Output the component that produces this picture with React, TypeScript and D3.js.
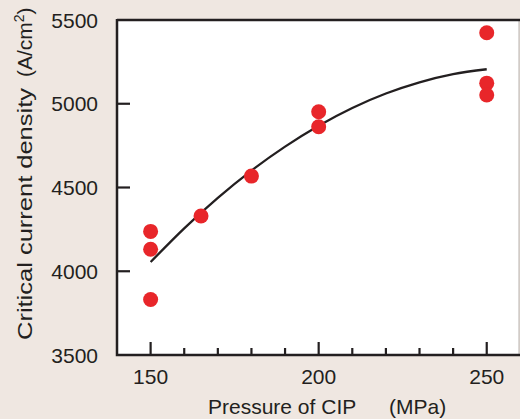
import React from "react";
import * as d3 from "d3";

const pressure: number[] = [150, 150, 150, 165, 180, 200, 200, 250, 250, 250];
const density: number[] = [4238, 4131, 3831, 4330, 4568, 4952, 4863, 5424, 5123, 5052];

const curveX: number[] = [150, 160, 170, 180, 190, 200, 210, 220, 230, 240, 250];
const curveY: number[] = [4055, 4256, 4438, 4601, 4744, 4869, 4975, 5061, 5128, 5177, 5206];

const yTicks: number[] = [3500, 4000, 4500, 5000, 5500];
const xMajor: number[] = [150, 200, 250];
const xMinor: number[] = [160, 170, 180, 190, 210, 220, 230, 240];

const W = 520;
const H = 419;
const L = 117;
const R = 519;
const T = 20;
const B = 355;
const FONT = "Liberation Sans, Arial, Helvetica, sans-serif";

export default function App() {
  const x = d3.scaleLinear().domain([140, 259.6]).range([L, R]);
  const y = d3.scaleLinear().domain([3500, 5500]).range([B, T]);
  const line = d3
    .line<number>()
    .x((_, i) => x(curveX[i]))
    .y((d) => y(d))
    .curve(d3.curveMonotoneX);

  return (
    <svg
      width={W}
      height={H}
      style={{ position: "absolute", left: 0, top: 0, display: "block" }}
    >
      <rect x={0} y={0} width={W} height={H} fill="#efe7e1" />
      <rect x={L} y={T} width={R - L} height={B - T} fill="#ffffff" />
      <line x1={R} x2={R} y1={T} y2={B} stroke="#b8b2ae" strokeWidth={1} />
      <path
        d={`M${L},${T} H${W} M${L},${T - 1} V${B} H${W}`}
        fill="none"
        stroke="#231f20"
        strokeWidth={2.5}
      />
      {yTicks.slice(1, -1).map((v) => (
        <line key={"yt" + v} x1={L} x2={L + 13} y1={y(v)} y2={y(v)} stroke="#231f20" strokeWidth={2.2} />
      ))}
      {xMajor.map((v) => (
        <line key={"xM" + v} x1={x(v)} x2={x(v)} y1={B} y2={B - 13} stroke="#231f20" strokeWidth={2.2} />
      ))}
      {xMinor.map((v) => (
        <line key={"xm" + v} x1={x(v)} x2={x(v)} y1={B} y2={B - 7} stroke="#231f20" strokeWidth={2.2} />
      ))}
      {yTicks.map((v) => (
        <text
          key={"yl" + v}
          x={98}
          y={y(v)}
          dy="0.36em"
          textAnchor="end"
          fontFamily={FONT}
          fontSize={21}
          fill="#231f20"
        >
          {v}
        </text>
      ))}
      {xMajor.map((v) => (
        <text
          key={"xl" + v}
          x={x(v)}
          y={384}
          textAnchor="middle"
          fontFamily={FONT}
          fontSize={21}
          fill="#231f20"
        >
          {v}
        </text>
      ))}
      <path d={line(curveY) || ""} fill="none" stroke="#231f20" strokeWidth={2.3} />
      {pressure.map((p, i) => (
        <circle key={"pt" + i} cx={x(p)} cy={y(density[i])} r={7.5} fill="#e8262a" />
      ))}
      <text y={414} fontFamily={FONT} fontSize={21} fill="#231f20">
        <tspan x={208}>Pressure of CIP</tspan>
        <tspan x={389}>(MPa)</tspan>
      </text>
      <g transform="translate(32,0) rotate(-90)">
        <text
          y={0}
          fontFamily={FONT}
          fontSize={21}
          fill="#231f20"
          textLength={252}
          lengthAdjust="spacingAndGlyphs"
          x={-340}
        >
          Critical current density
        </text>
        <text y={0} x={-77} fontFamily={FONT} fontSize={21} fill="#231f20">
          (A/cm
          <tspan fontSize={14} dy={-8}>2</tspan>
          <tspan dy={8}>)</tspan>
        </text>
      </g>
    </svg>
  );
}
